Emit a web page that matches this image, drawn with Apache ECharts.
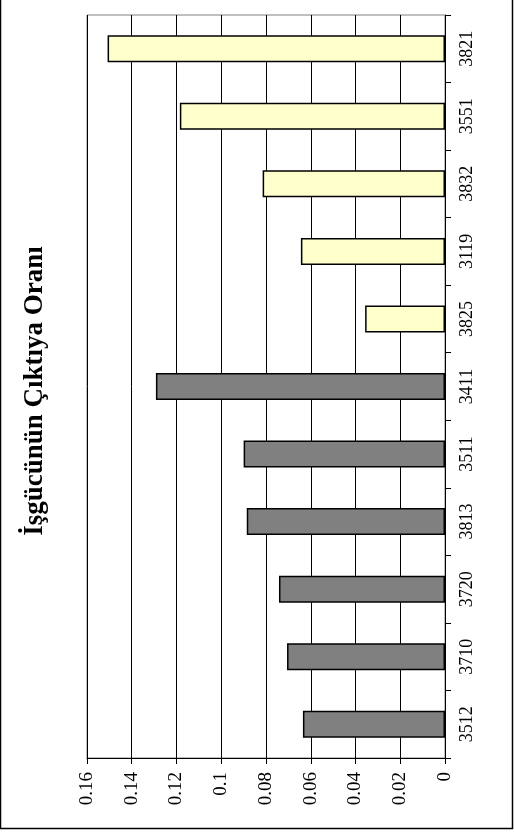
<!DOCTYPE html>
<html>
<head>
<meta charset="utf-8">
<style>
  html, body { margin: 0; padding: 0; background: #fff; }
  #chart { width: 514px; height: 834px; }
</style>
<script src="https://cdn.jsdelivr.net/npm/echarts@6/dist/echarts.min.js"></script>
</head>
<body>
<div id="chart"></div>
<script>
// Sector codes, listed from the bottom of the axis to the top
const categories = ['3512', '3710', '3720', '3813', '3511', '3411', '3825', '3119', '3832', '3551', '3821'];
// Labour-to-output ratio, first group (grey bars)
const groupA = [0.0635, 0.0706, 0.0742, 0.0886, 0.0900, 0.1292, '-', '-', '-', '-', '-'];
// Labour-to-output ratio, second group (pale yellow bars)
const groupB = ['-', '-', '-', '-', '-', '-', 0.0357, 0.0644, 0.0815, 0.1185, 0.1508];
// Value axis range
const axisMin = 0;
const axisMax = 0.16;
const axisStep = 0.02;
const titleText = 'İşgücünün Çıktıya Oranı';

const FONT = '"Liberation Serif", "Times New Roman", serif';
const chart = echarts.init(document.getElementById('chart'), null, { renderer: 'canvas' });

const barStyle = (fill) => ({ color: fill, borderColor: '#000', borderWidth: 1.5 });

chart.setOption({
  animation: false,
  backgroundColor: '#fff',
  grid: {
    left: 87, right: 69, top: 15, bottom: 76,
    show: true, borderColor: '#808080', borderWidth: 1
  },
  xAxis: {
    type: 'value',
    inverse: true,
    min: axisMin, max: axisMax, interval: axisStep,
    position: 'bottom',
    axisLine: { show: true, lineStyle: { color: '#000', width: 1 } },
    axisTick: { show: true, length: 6, lineStyle: { color: '#000', width: 1 } },
    axisLabel: { rotate: 90, margin: 14, color: '#000', fontFamily: FONT, fontSize: 19 },
    splitLine: { show: true, lineStyle: { color: '#000', width: 1 } }
  },
  yAxis: {
    type: 'category',
    data: categories,
    position: 'right',
    axisLine: { show: true, lineStyle: { color: '#000', width: 1 } },
    axisTick: { show: true, length: 6, lineStyle: { color: '#000', width: 1 } },
    axisLabel: { rotate: 90, margin: 13, color: '#000', fontFamily: FONT, fontSize: 18 },
    splitLine: { show: false }
  },
  series: [
    { type: 'bar', data: groupA, barWidth: '40%', barGap: '-100%', itemStyle: barStyle('#808080') },
    { type: 'bar', data: groupB, barWidth: '40%', barGap: '-100%', itemStyle: barStyle('#FFFFCC') }
  ],
  graphic: [
    {
      type: 'rect',
      shape: { x: 0.5, y: -2, width: 512, height: 830.5 },
      style: { fill: 'none', stroke: '#000', lineWidth: 1.5 },
      silent: true
    },
    {
      type: 'text',
      x: 35, y: 391,
      rotation: Math.PI / 2,
      style: {
        text: titleText,
        fill: '#000',
        font: 'bold 27px ' + FONT,
        align: 'center',
        verticalAlign: 'middle'
      },
      silent: true
    }
  ]
});
</script>
</body>
</html>
